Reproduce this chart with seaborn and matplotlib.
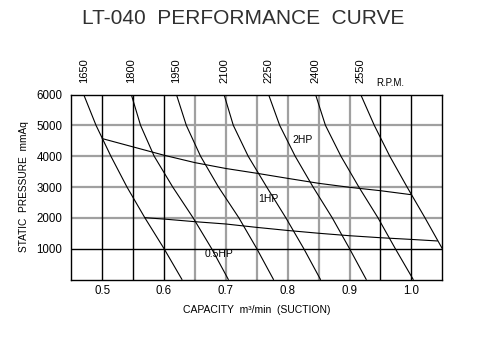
import matplotlib
matplotlib.use("Agg")
import matplotlib.pyplot as plt
import seaborn as sns
import pandas as pd

# ---------------- data ----------------
rpm_labels = ["1650", "1800", "1950", "2100", "2250", "2400", "2550"]

rpm_y = [6000, 5000, 4000, 3000, 2000, 1000, 0]
rpm_1650_x = [0.470, 0.490, 0.514, 0.540, 0.569, 0.600, 0.629]
rpm_1800_x = [0.547, 0.562, 0.584, 0.614, 0.647, 0.677, 0.704]
rpm_1950_x = [0.620, 0.636, 0.659, 0.688, 0.721, 0.750, 0.777]
rpm_2100_x = [0.697, 0.712, 0.736, 0.766, 0.797, 0.826, 0.853]
rpm_2250_x = [0.769, 0.787, 0.812, 0.841, 0.872, 0.900, 0.927]
rpm_2400_x = [0.845, 0.861, 0.886, 0.915, 0.946, 0.974, 1.003]
rpm_2550_x = [0.918, 0.940, 0.965, 0.993, 1.022, 1.050]
rpm_2550_y = [6000, 5000, 4000, 3000, 2000, 1000]

hp_upper_x = [0.50, 0.55, 0.60, 0.65, 0.70, 0.75, 0.80, 0.85, 0.90, 0.95, 1.00]
hp_upper_y = [4570, 4300, 4030, 3790, 3600, 3445, 3280, 3120, 2990, 2880, 2750]
hp_lower_x = [0.569, 0.60, 0.65, 0.70, 0.75, 0.80, 0.85, 0.90, 0.95, 1.00, 1.042]
hp_lower_y = [2005, 1960, 1875, 1800, 1690, 1590, 1500, 1420, 1355, 1300, 1250]

power_labels = ["2HP", "1HP", "0.5HP"]
power_label_x = [0.807, 0.7516, 0.6656]
power_label_y = [4531, 2611, 833]

x_ticks = [0.5, 0.6, 0.7, 0.8, 0.9, 1.0]
x_tick_labels = ["0.5", "0.6", "0.7", "0.8", "0.9", "1.0"]
y_ticks = [1000, 2000, 3000, 4000, 5000, 6000]
y_tick_labels = ["1000", "2000", "3000", "4000", "5000", "6000"]

grid_x_black = [0.50, 0.55, 0.60, 0.95, 1.00]
grid_x_gray = [0.65, 0.70, 0.75, 0.80, 0.85, 0.90]
grid_y_black = [1000]
grid_y_gray = [2000, 3000, 4000, 5000]

# ---------------- build tables ----------------
rpm_curves = [
    (rpm_1650_x, rpm_y), (rpm_1800_x, rpm_y), (rpm_1950_x, rpm_y),
    (rpm_2100_x, rpm_y), (rpm_2250_x, rpm_y), (rpm_2400_x, rpm_y),
    (rpm_2550_x, rpm_2550_y),
]
frames = []
for lab, (xs, ys) in zip(rpm_labels, rpm_curves):
    frames.append(pd.DataFrame({"capacity": xs, "pressure": ys, "curve": lab}))
frames.append(pd.DataFrame({"capacity": hp_upper_x, "pressure": hp_upper_y, "curve": "hp_upper"}))
frames.append(pd.DataFrame({"capacity": hp_lower_x, "pressure": hp_lower_y, "curve": "hp_lower"}))
df = pd.concat(frames, ignore_index=True)

# ---------------- style ----------------
sns.set_style("white")
plt.rcParams["font.family"] = ["Liberation Sans", "DejaVu Sans"]
plt.rcParams["text.color"] = "black"
plt.rcParams["axes.labelcolor"] = "black"
plt.rcParams["xtick.color"] = "black"
plt.rcParams["ytick.color"] = "black"

fig = plt.figure(figsize=(4.92, 3.42), dpi=100)
ax = fig.add_axes([71.3 / 492, 1 - 279.5 / 342, (442.3 - 71.3) / 492, (279.5 - 94.5) / 342])

GRAY = "#a0a0a0"
for gx in grid_x_gray:
    ax.axvline(gx, color=GRAY, lw=1.6, zorder=1)
for gy in grid_y_gray:
    ax.axhline(gy, color=GRAY, lw=1.6, zorder=1)
for gx in grid_x_black:
    ax.axvline(gx, color="black", lw=1.0, zorder=2)
for gy in grid_y_black:
    ax.axhline(gy, color="black", lw=1.0, zorder=2)

sns.lineplot(data=df, x="capacity", y="pressure", units="curve", estimator=None,
             sort=False, color="black", lw=0.8, ax=ax, zorder=3, legend=False)

ax.set_xlim(0.45, 1.05)
ax.set_ylim(0, 6000)

for sp in ax.spines.values():
    sp.set_visible(True)
    sp.set_color("black")
    sp.set_linewidth(1.0)

ax.set_xticks(x_ticks, labels=x_tick_labels)
ax.set_yticks(y_ticks, labels=y_tick_labels)
ax.tick_params(axis="x", length=0, pad=4, labelsize=8.3, labelcolor="black")
ax.tick_params(axis="y", length=0, pad=6.5, labelsize=8.3, labelcolor="black")

ax.set_xlabel("CAPACITY  m\u00b3/min  (SUCTION)", fontsize=7.5, labelpad=6)
ax.set_ylabel("STATIC  PRESSURE  mmAq", fontsize=7.3, labelpad=5)

# power region labels
for t, px, py in zip(power_labels, power_label_x, power_label_y):
    ax.text(px, py, t, fontsize=7.5, ha="left", va="center", zorder=4)

# top RPM labels at the top end of each curve
top_x = [c[0][0] for c in rpm_curves]
sec = ax.secondary_xaxis("top")
sec.set_xticks(top_x, labels=rpm_labels)
sec.tick_params(length=0, pad=8.3, labelsize=8, labelrotation=90, labelcolor="black")
for lbl in sec.get_xticklabels():
    lbl.set_family(["Liberation Sans Narrow", "Liberation Sans"])
for sp in sec.spines.values():
    sp.set_visible(False)

ax.text(0.943, 1 + 11.0 / 185, "R.P.M.", transform=ax.get_xaxis_transform(),
        fontsize=7, ha="left", va="center")

fig.text(243 / 492, 1 - 18.7 / 342, "LT-040  PERFORMANCE  CURVE", fontsize=15,
         ha="center", va="center", color="#303030")

fig.savefig("out.png", dpi=100, facecolor="white")
